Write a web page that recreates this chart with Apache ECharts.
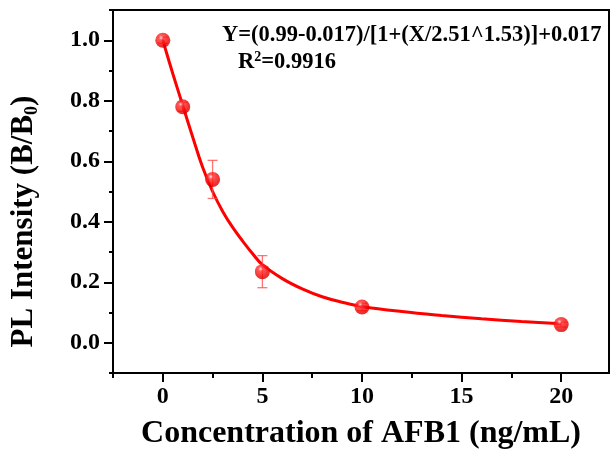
<!DOCTYPE html>
<html>
<head>
<meta charset="utf-8">
<script src="https://cdn.jsdelivr.net/npm/echarts@6/dist/echarts.min.js"></script>
<style>html,body{margin:0;padding:0;background:#fff;}#c{width:610px;height:452px;}</style>
</head>
<body>
<div id="c"></div>
<script>
// Measured data points
const pointsX = [0, 1, 2.5, 5, 10, 20];
const pointsY = [1.0, 0.78, 0.54, 0.235, 0.118, 0.06];
const errY = [0.01, 0.015, 0.063, 0.053, 0.012, 0.008];
// Fitted curve
const curveX = [0, 0.5, 1, 1.5, 2, 2.5, 3, 3.5, 4, 4.5, 5, 6, 7, 8, 9, 10, 12, 14, 16, 18, 20];
const curveY = [1.0, 0.89, 0.785, 0.68, 0.58, 0.5, 0.435, 0.382, 0.337, 0.295, 0.258, 0.212, 0.178, 0.152, 0.134, 0.12, 0.103, 0.09, 0.079, 0.07, 0.063];
// Axis ticks
const xMajorTicks = [0, 5, 10, 15, 20];
const xMinorTicks = [-2.5, 2.5, 7.5, 12.5, 17.5];
const yMajorTicks = [0, 0.2, 0.4, 0.6, 0.8, 1.0];
const yMinorTicks = [-0.1, 0.1, 0.3, 0.5, 0.7, 0.9, 1.1];
const equationText = 'Y=(0.99-0.017)/[1+(X/2.51^1.53)]+0.017';
const r2Text = '{a|R}{s|2}{a|=0.9916}';

const FONT = '"Liberation Serif", "Times New Roman", serif';
const chart = echarts.init(document.getElementById('c'), null, {renderer: 'canvas'});

const points = pointsX.map((x, i) => [x, pointsY[i]]);
const errData = pointsX.map((x, i) => [x, pointsY[i] - errY[i], pointsY[i] + errY[i]]);
const curve = curveX.map((x, i) => [x, curveY[i]]);

const xRange = {min: -2.5, max: 22.4};
const yRange = {min: -0.1, max: 1.1};

chart.setOption({
  animation: false,
  backgroundColor: '#fff',
  grid: {left: 113, right: 1, top: 10, bottom: 79, outerBoundsMode: 'none', containLabel: false,
    show: true, borderColor: '#000', borderWidth: 2, backgroundColor: 'transparent'},
  xAxis: [
    {
      type: 'value', min: xRange.min, max: xRange.max, interval: 2.5,
      name: 'Concentration of AFB1 (ng/mL)', nameLocation: 'middle', nameGap: 45,
      nameTextStyle: {fontFamily: FONT, fontWeight: 'bold', fontSize: 32, color: '#000'},
      axisLine: {show: true, onZero: false, lineStyle: {color: '#000', width: 2}},
      axisTick: {show: true, customValues: xMajorTicks, length: 9, lineStyle: {color: '#000', width: 2}},
      axisLabel: {customValues: xMajorTicks, margin: 12, fontFamily: FONT, fontWeight: 'bold', fontSize: 24, color: '#000', formatter: v => String(v)},
      splitLine: {show: false}
    },
    {
      type: 'value', min: xRange.min, max: xRange.max, interval: 2.5, position: 'bottom',
      axisLine: {show: false, onZero: false},
      axisTick: {show: true, customValues: xMinorTicks, length: 5, lineStyle: {color: '#000', width: 2}},
      axisLabel: {show: false},
      splitLine: {show: false}
    }
  ],
  yAxis: [
    {
      type: 'value', min: yRange.min, max: yRange.max, interval: 0.1,
      name: '{a|PL Intensity (B/B}{s|0}{a|)}', nameLocation: 'middle', nameGap: 72,
      nameTextStyle: {fontFamily: FONT, fontWeight: 'bold', fontSize: 31, color: '#000', padding: [0, 60, 0, 0],
        rich: {
          a: {fontFamily: FONT, fontWeight: 'bold', fontSize: 31, color: '#000'},
          s: {fontFamily: FONT, fontWeight: 'bold', fontSize: 18, color: '#000', verticalAlign: 'bottom', padding: [16, 0, 0, 0]}
        }},
      axisLine: {show: true, onZero: false, lineStyle: {color: '#000', width: 2}},
      axisTick: {show: true, customValues: yMajorTicks, length: 9, lineStyle: {color: '#000', width: 2}},
      axisLabel: {customValues: yMajorTicks, margin: 13, fontFamily: FONT, fontWeight: 'bold', fontSize: 24, color: '#000', formatter: v => v.toFixed(1)},
      splitLine: {show: false}
    },
    {
      type: 'value', min: yRange.min, max: yRange.max, interval: 0.1, position: 'left',
      axisLine: {show: false, onZero: false},
      axisTick: {show: true, customValues: yMinorTicks, length: 4, lineStyle: {color: '#000', width: 2}},
      axisLabel: {show: false},
      splitLine: {show: false}
    }
  ],
  graphic: [
    {type: 'text', left: 222, top: 24, style: {text: equationText, fontFamily: FONT, fontWeight: 'bold', fontSize: 22.5, fill: '#000'}},
    {type: 'text', left: 238, top: 50, style: {text: r2Text, fontFamily: FONT, fontWeight: 'bold', fontSize: 22.5, fill: '#000',
      rich: {
        a: {fontFamily: FONT, fontWeight: 'bold', fontSize: 22.5, fill: '#000'},
        s: {fontFamily: FONT, fontWeight: 'bold', fontSize: 14, fill: '#000', padding: [0, 0, 10, 0]}
      }}}
  ],
  series: [
    {
      type: 'line', data: curve, smooth: 0.4, showSymbol: false, symbol: 'none',
      lineStyle: {color: '#ff0000', width: 3}, z: 2
    },
    {
      type: 'custom', data: errData, z: 3,
      renderItem: function (params, api) {
        const x = api.value(0);
        const lo = api.coord([x, api.value(1)]);
        const hi = api.coord([x, api.value(2)]);
        const hw = 5;
        const st = {stroke: 'rgba(255,70,70,0.75)', lineWidth: 1.3};
        return {type: 'group', children: [
          {type: 'line', shape: {x1: lo[0], y1: lo[1], x2: hi[0], y2: hi[1]}, style: st},
          {type: 'line', shape: {x1: lo[0] - hw, y1: lo[1], x2: lo[0] + hw, y2: lo[1]}, style: st},
          {type: 'line', shape: {x1: hi[0] - hw, y1: hi[1], x2: hi[0] + hw, y2: hi[1]}, style: st}
        ]};
      }
    },
    {
      type: 'scatter', data: points, symbolSize: 15, z: 4,
      itemStyle: {
        color: new echarts.graphic.RadialGradient(0.38, 0.32, 0.7, [
          {offset: 0, color: '#ffe0e0'},
          {offset: 0.22, color: '#ff3030'},
          {offset: 0.75, color: '#f00000'},
          {offset: 1, color: '#d00000'}
        ])
      }
    }
  ]
});
</script>
</body>
</html>
